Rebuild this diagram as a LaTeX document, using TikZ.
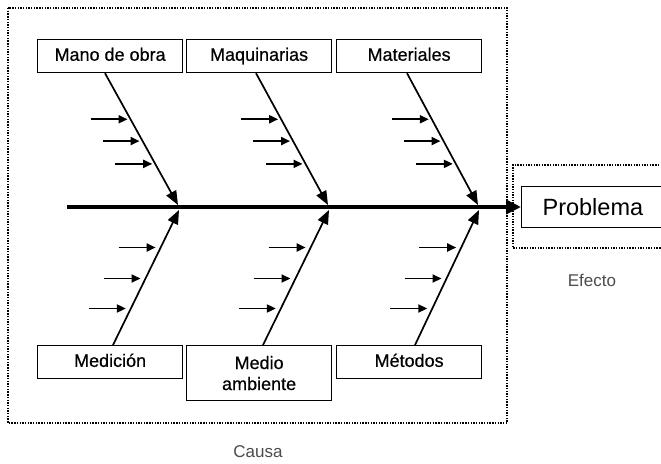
\documentclass[tikz,border=0pt]{standalone}
\usepackage{fontspec}
\setmainfont{Liberation Sans}
\newfontfamily\heavyfont[FakeBold=0.5]{Liberation Sans}
\usetikzlibrary{arrows.meta,calc}
\begin{document}
\begin{tikzpicture}[x=1pt,y=-1pt,
  causebox/.style={draw, line width=1.2pt, minimum width=145pt, minimum height=33pt,
    inner sep=0pt, font=\heavyfont\fontsize{18}{21}\selectfont, align=center},
  cause/.style={causebox, execute at begin node=\vphantom{Mg}},
  bone/.style={line width=1.7pt, -{Triangle[length=14pt,width=11pt]}},
  sub/.style={line width=1.9pt, -{Triangle[length=9pt,width=8pt]}},
  spine/.style={line width=3.5pt, -{Triangle[length=15pt,width=14pt]}},
  frame/.style={line width=1.7pt, dash pattern=on 1.4pt off 1.3pt},
  caption/.style={font=\fontsize{17}{20}\selectfont, text=black!70}]
\clip (0,0) rectangle (661,463);
\fill[white] (0,0) rectangle (661,463);

% surrounding dotted frames: causes and effect
\draw[frame] (8,8) rectangle (507,423);
\draw[frame] (670,165) -- (513,165) -- (513,248) -- (670,248);

% category boxes
\node[cause, anchor=north west] (mano)  at (37,39)   {Mano de obra};
\node[cause, anchor=north west] (maq)   at (186,39)  {Maquinarias};
\node[cause, anchor=north west] (mat)   at (336,39)  {Materiales};
\node[cause, anchor=north west] (medic) at (37,345)  {Medición};
\node[causebox, anchor=north west, minimum height=55pt]
  (medio) at (186,345) {Medio\\ambiente};
\node[cause, anchor=north west] (metod) at (336,345) {Métodos};

% effect box (runs off the right edge)
\node[draw, line width=1.2pt, anchor=west, minimum height=41pt, inner sep=0pt,
  text width=160pt, align=left, font=\fontsize{23.5}{26}\selectfont]
  (prob) at (521,207) {\hspace*{21pt}Problema};

% main spine
\coordinate (tail) at (67,207);
\draw[spine] (tail) -- (prob.west);

% junctions on the spine
\coordinate (j1a) at (178,205); \coordinate (j1b) at (179,210);
\coordinate (j2a) at (328,205); \coordinate (j2b) at (329,210);
\coordinate (j3a) at (478,205); \coordinate (j3b) at (479,210);

% bone roots at the boxes
\coordinate (t1) at ([xshift=68pt]mano.south west);
\coordinate (t2) at ([xshift=70pt]maq.south west);
\coordinate (t3) at ([xshift=71pt]mat.south west);
\coordinate (b1) at ([xshift=76pt]medic.north west);
\coordinate (b2) at ([xshift=77pt]medio.north west);
\coordinate (b3) at ([xshift=79pt]metod.north west);

% bones
\foreach \r/\j in {t1/j1a, t2/j2a, t3/j3a, b1/j1b, b2/j2b, b3/j3b}
  \draw[bone] (\r) -- (\j);

% sub-causes on the upper bones
\foreach \r/\j in {t1/j1a, t2/j2a, t3/j3a}
  \foreach \t/\n in {0.3496/1, 0.515/2, 0.688/3} {
    \coordinate (\r-\n) at ($(\r)!\t!(\j)+(-3,0)$);
    \draw[sub] ([xshift=-37pt]\r-\n) -- (\r-\n);
  }

% sub-causes on the lower bones
\foreach \r/\j in {b1/j1b, b2/j2b, b3/j3b}
  \foreach \t/\n in {0.2778/1, 0.5074/2, 0.7296/3} {
    \coordinate (\r-\n) at ($(\j)!\t!(\r)+(-5,0)$);
    \draw[sub] ([xshift=-37pt]\r-\n) -- (\r-\n);
  }

% captions
\node[caption] (causa)  at (258,452) {Causa};
\node[caption] (efecto) at (592,280) {Efecto};
\end{tikzpicture}
\end{document}
